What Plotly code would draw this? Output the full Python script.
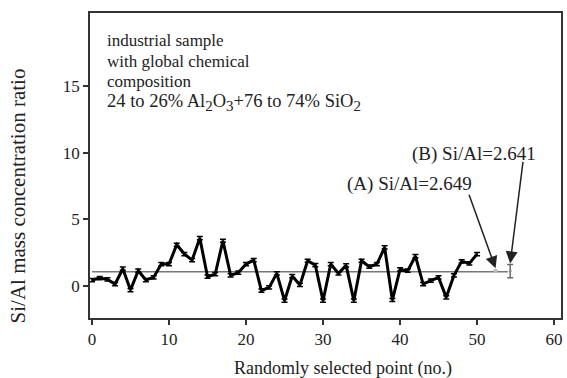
import plotly.graph_objects as go

# Data
point_no = list(range(0, 51))
si_al = [0.45, 0.6, 0.5, 0.15, 1.3, -0.3, 1.15, 0.45, 0.65, 1.65,
         1.65, 3.1, 2.4, 1.95, 3.6, 0.7, 0.9, 3.4, 0.8, 1.0,
         1.65, 1.95, -0.35, -0.1, 0.95, -1.1, 0.75, 0.08, 1.9, 1.57,
         -1.1, 1.65, 0.95, 1.55, -1.1, 1.9, 1.45, 1.65, 2.9, -1.05,
         1.25, 1.15, 2.25, 0.15, 0.4, 0.65, -0.85, 0.8, 1.85, 1.7,
         2.4]
err = [0.12] * len(point_no)
mean_x = [0, 54]
mean_y = [1.07, 1.07]
pt_a = (52.4, 1.15)
pt_b = (54.3, 1.12)
pt_b_err = 0.5
label_a = "(A) Si/Al=2.649"
label_b = "(B) Si/Al=2.641"
x_ticks = [0, 10, 20, 30, 40, 50, 60]
y_ticks = [0, 5, 10, 15]

FONT = "Liberation Serif, Times New Roman, serif"

fig = go.Figure()
fig.add_trace(go.Scatter(x=mean_x, y=mean_y, mode="lines",
                         line=dict(color="#777777", width=1.5), hoverinfo="skip"))
fig.add_trace(go.Scatter(x=point_no, y=si_al, mode="lines",
                         line=dict(color="black", width=3),
                         error_y=dict(type="data", array=err, color="black",
                                      thickness=1.5, width=3)))
fig.add_trace(go.Scatter(x=[pt_a[0]], y=[pt_a[1]], mode="markers",
                         marker=dict(color="#bbbbbb", size=4)))
fig.add_trace(go.Scatter(x=[pt_b[0]], y=[pt_b[1]], mode="markers",
                         marker=dict(color="#888888", size=3),
                         error_y=dict(type="data", array=[pt_b_err], color="#666666",
                                      thickness=1.5, width=3)))

axis_common = dict(showline=True, linecolor="#333333", linewidth=1.5, mirror=True,
                   ticks="outside", ticklen=5, tickwidth=1.5, tickcolor="#333333",
                   showgrid=False, zeroline=False,
                   tickfont=dict(family=FONT, size=17, color="#222222"))
fig.update_xaxes(range=[-0.26, 60.9], tickvals=x_ticks, **axis_common)
fig.update_yaxes(range=[-2.4, 20.5], tickvals=y_ticks, **axis_common)

def px_x(p):
    return (p - 90) / 473.0

def px_y(p):
    return (318 - p) / 305.3

sub = "<sub><span style='font-size:15px'>{}</span></sub>"
lines = ["industrial sample", "with global chemical", "composition",
         "24 to 26% Al" + sub.format("2") + "O" + sub.format("3")
         + "+76 to 74% SiO" + sub.format("2")]
sizes = [17, 17, 17, 18.5]
ys = [40, 61, 81, 102]
anns = []
for t, yy, fs in zip(lines, ys, sizes):
    anns.append(dict(text=t, xref="paper", yref="paper", x=px_x(105), y=px_y(yy),
                     xanchor="left", yanchor="middle", showarrow=False,
                     font=dict(family=FONT, size=fs, color="#222222")))
anns.append(dict(text=label_a, xref="paper", yref="paper", x=px_x(411), y=px_y(184),
                 xanchor="center", yanchor="middle", showarrow=False,
                 font=dict(family=FONT, size=19, color="#222222")))
anns.append(dict(text=label_b, xref="paper", yref="paper", x=px_x(476), y=px_y(154),
                 xanchor="center", yanchor="middle", showarrow=False,
                 font=dict(family=FONT, size=19, color="#222222")))
anns.append(dict(text="", x=52.4, y=1.33, xref="x", yref="y", ax=-27, ay=-75,
                 showarrow=True, arrowhead=2, arrowsize=1.6, arrowwidth=1.5,
                 arrowcolor="#222222"))
anns.append(dict(text="", x=54.3, y=1.7, xref="x", yref="y", ax=13, ay=-103,
                 showarrow=True, arrowhead=2, arrowsize=1.6, arrowwidth=1.5,
                 arrowcolor="#222222"))
anns.append(dict(text="Si/Al mass concentration ratio", xref="paper", yref="paper",
                 x=px_x(18), y=px_y(196), textangle=-90, showarrow=False,
                 xanchor="center", yanchor="middle",
                 font=dict(family=FONT, size=21, color="#222222")))
anns.append(dict(text="Randomly selected point (no.)", xref="paper", yref="paper",
                 x=px_x(344), y=px_y(369), showarrow=False,
                 xanchor="center", yanchor="middle",
                 font=dict(family=FONT, size=18, color="#222222")))

fig.update_layout(width=567, height=378, margin=dict(l=90, r=4, t=13, b=60),
                  plot_bgcolor="white", paper_bgcolor="white", showlegend=False,
                  annotations=anns)
fig.write_html("out.html")
